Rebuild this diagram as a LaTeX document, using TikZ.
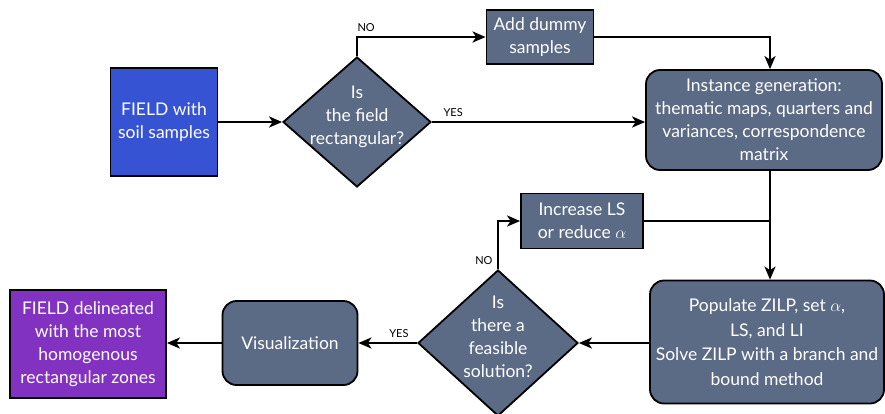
\documentclass[tikz,border=0pt]{standalone}
\usepackage{fontspec}
\setmainfont{Lato}
\usetikzlibrary{shapes.geometric,arrows.meta,calc}
\definecolor{slate}{HTML}{5B6A85}
\definecolor{fieldblue}{HTML}{3553D3}
\definecolor{fieldpurple}{HTML}{8232C0}
\tikzset{
  box/.style={draw=black, line width=1.8pt, fill=slate, text=white, align=center,
    font=\fontsize{17.5}{23}\selectfont, inner sep=0pt},
  rbox/.style={box, rounded corners=14pt},
  dia/.style={diamond, draw=black, line width=1.8pt, fill=slate, inner sep=0pt},
  diatext/.style={text=white, align=center, font=\fontsize{17.5}{23}\selectfont},
  flow/.style={line width=2.2pt, -{Stealth[length=13pt,width=11pt,inset=3.5pt]}},
  plain/.style={line width=2.2pt},
  tag/.style={font=\fontsize{11}{13}\selectfont}
}
\begin{document}
\begin{tikzpicture}[x=1pt,y=-1pt]
\useasboundingbox (0,0) rectangle (885,413);

% boxes
\node[box, fill=fieldblue, minimum width=107pt, minimum height=108pt] (field) at (164,122)
  {FIELD with\\soil samples};
\node[dia, minimum width=148pt, minimum height=130pt] (rect) at (357,122) {};
\node[diatext] (recttext) at (357,117) {Is\\the field\\rectangular?};
\node[box, minimum width=107pt, minimum height=54pt] (dummy) at (540,37)
  {Add dummy\\samples};
\node[rbox, minimum width=236pt, minimum height=100pt] (inst) at (764,120)
  {Instance generation:\\thematic maps, quarters and\\variances, correspondence\\matrix};
\node[box, minimum width=122pt, minimum height=55pt] (incr) at (582,221)
  {Increase LS\\or reduce $\alpha$};
\node[rbox, minimum width=234pt, minimum height=123pt,
  font=\fontsize{17.5}{24.5}\selectfont] (pop) at (767,342)
  {Populate ZILP, set $\alpha$,\\LS, and LI\\Solve ZILP with a branch and\\bound method};
\node[dia, minimum width=160pt, minimum height=146pt] (feas) at (498,343) {};
\node[diatext] (feastext) at (498,337) {Is\\there a\\feasible\\solution?};
\node[rbox, minimum width=135pt, minimum height=84pt] (vis) at (290,343) {Visualization};
\node[box, fill=fieldpurple, minimum width=156pt, minimum height=108pt] (out) at (88,344)
  {FIELD delineated\\with the most\\homogenous\\rectangular zones};

% bend point where the loop rejoins the main line
\coordinate (j) at (770,221);

% connectors
\draw[flow] (field.east) -- (rect.west);
\draw[flow] (rect.north) |- (dummy.west);
\draw[flow] (dummy.east) -| (inst.north -| j);
\draw[flow] (rect.east) -- (inst.west |- rect.east);
\draw[flow] (inst.south -| j) -- (pop.north -| j);
\draw[plain] (incr.east) -- (j);
\draw[flow] (pop.west |- feas.east) -- (feas.east);
\draw[flow] (feas.north) |- (incr.west);
\draw[flow] (feas.west) -- (vis.east |- feas.west);
\draw[flow] (vis.west) -- (out.east |- vis.west);

% branch labels
\node[tag, anchor=south west] (no1) at (354,35) {NO};
\node[tag, anchor=south west] (yes1) at (440,120) {YES};
\node[tag, anchor=south east] (no2) at (496,268) {NO};
\node[tag, anchor=south east] (yes2) at (412,341) {YES};
\end{tikzpicture}
\end{document}
